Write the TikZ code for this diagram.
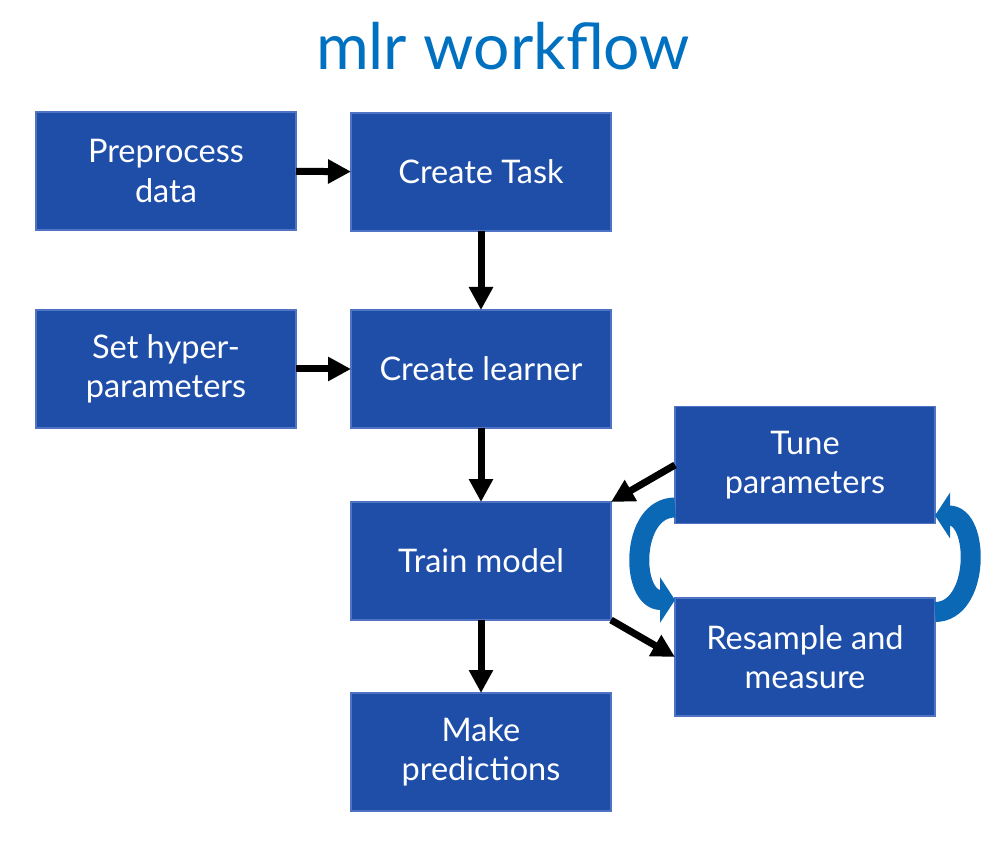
\documentclass[tikz,border=0pt]{standalone}
\usepackage{fontspec}
\setmainfont{Lato}
\usetikzlibrary{arrows.meta,calc}
\definecolor{boxblue}{RGB}{31,78,168}
\definecolor{boxedge}{RGB}{80,116,196}
\definecolor{titleblue}{RGB}{0,112,192}
\definecolor{loopblue}{RGB}{10,104,180}
\begin{document}
\begin{tikzpicture}[
  stepbox/.style={draw=boxedge,line width=0.6pt,fill=boxblue,text=white,
    minimum width=5.2cm,minimum height=2.36cm,outer sep=0pt,align=center,
    font=\fontsize{18.5}{22.5}\selectfont},
  flow/.style={line width=0.14cm,-{Triangle[length=0.46cm,width=0.46cm]}},
  loop/.style={loopblue,line width=0.4cm,-{Triangle[length=0.3cm,width=0.9cm]}}]
  \useasboundingbox (0,0) rectangle (20.14,-16.92);

  % Titel
  \node[titleblue,font=\fontsize{36.5}{42}\selectfont] (title) at (10.06,-0.92) {mlr workflow};

  % Kaesten
  \node[stepbox] (prep)    at (3.32,-3.42)  {Preprocess\\data};
  \node[stepbox] (task)    at (9.62,-3.44)  {Create Task};
  \node[stepbox] (hyper)   at (3.32,-7.38)  {Set hyper-\\parameters};
  \node[stepbox] (learner) at (9.62,-7.38)  {Create learner};
  \node[stepbox] (train)   at (9.62,-11.22) {Train model};
  \node[stepbox] (predict) at (9.62,-15.04) {Make\\predictions};
  \node[stepbox,minimum height=2.34cm] (tune)     at (16.1,-9.3)   {Tune\\parameters};
  \node[stepbox] (resample) at (16.1,-13.14) {Resample and\\measure};

  % Pfeile
  \draw[flow] (prep) -- (task);
  \draw[flow] (task) -- (learner);
  \draw[flow] (hyper) -- (learner);
  \draw[flow] (learner) -- (train);
  \draw[flow] (train) -- (predict);
  \draw[flow] (tune.west) -- (train.north east);
  \draw[flow] (train.south east) -- (resample.west);

  % Schleife Tune <-> Resample
  \coordinate (loopA) at ($(tune.south west)+(0,0.32)$);
  \coordinate (loopB) at ($(resample.north west)+(0,-0.04)$);
  \coordinate (loopC) at ($(resample.north east)+(0,-0.28)$);
  \coordinate (loopD) at ($(tune.south east)+(0,0.16)$);
  \draw[loop] (loopA) .. controls +(-0.9,0) and +(-0.9,0) .. (loopB);
  \draw[loop] (loopC) .. controls +(0.9,0) and +(0.9,0) .. (loopD);
\end{tikzpicture}
\end{document}
